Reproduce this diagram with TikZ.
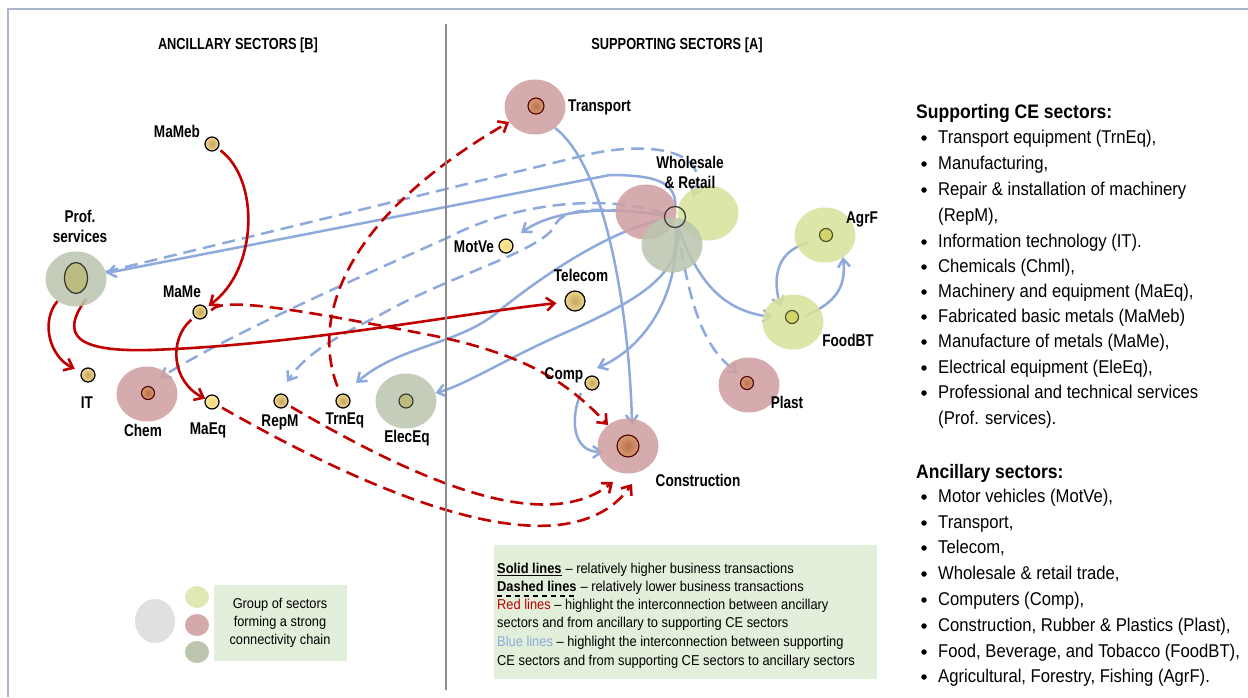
\documentclass[tikz,border=0pt]{standalone}
\usepackage{fontspec}
\setmainfont{Liberation Sans}
\newfontfamily\labelfont[FakeStretch=0.8]{Liberation Sans}
\newfontfamily\listfont[FakeStretch=0.9]{Liberation Sans}
\usetikzlibrary{calc,shapes.geometric,arrows.meta}
\pgfdeclarelayer{back}
\pgfsetlayers{back,main}
\definecolor{cered}{HTML}{C00000}
\definecolor{ceblue}{HTML}{8EA9DB}
\definecolor{redblob}{HTML}{CF9FA2}
\definecolor{greyblob}{HTML}{BCC5B0}
\definecolor{limeblob}{HTML}{D6E29C}
\definecolor{keyfill}{HTML}{E2EFDA}
\definecolor{frameblue}{HTML}{A9B6C9}
\definecolor{ydotin}{HTML}{C4A462}
\definecolor{ydotout}{HTML}{EFD68A}
\definecolor{lydotin}{HTML}{F2D680}
\definecolor{lydotout}{HTML}{FFEA9C}
\definecolor{rcorein}{HTML}{B8724F}
\definecolor{rcoreout}{HTML}{D99A72}
\definecolor{ocore}{HTML}{BDBC80}
\definecolor{lcore}{HTML}{D2D66A}
\tikzset{
 blob/.style={ellipse,minimum width=61pt,minimum height=55pt,inner sep=0pt,fill=#1,fill opacity=0.88},
 ydot/.style={circle,draw=black,line width=1.2pt,minimum size=#1,inner sep=0pt,inner color=ydotin,outer color=ydotout},
 ydot/.default=14pt,
 lydot/.style={ydot=#1,inner color=lydotin,outer color=lydotout},
 lydot/.default=14pt,
 rcore/.style={circle,draw=black!70!red,line width=1.1pt,minimum size=#1,inner sep=0pt,inner color=rcorein,outer color=rcoreout},
 ocorebox/.style={circle,draw=black!80,line width=1.1pt,minimum size=#1,inner sep=0pt,fill=ocore},
 lcorebox/.style={circle,draw=black!60!olive,line width=1.1pt,minimum size=#1,inner sep=0pt,fill=lcore},
 lbl/.style={inner sep=0pt,font=\labelfont\bfseries\fontsize{17}{20}\selectfont},
 head/.style={inner sep=0pt,font=\labelfont\bfseries\fontsize{16}{18}\selectfont},
 item/.style={anchor=west,inner sep=0pt,text height=14pt,text depth=3pt,font=\listfont\fontsize{18.5}{22}\selectfont},
 listhead/.style={anchor=west,inner sep=0pt,text height=14pt,text depth=3pt,font=\listfont\bfseries\fontsize{19.5}{22}\selectfont},
 keytxt/.style={anchor=base west,inner sep=0pt,font=\listfont\fontsize{14.3}{18.4}\selectfont},
 bul/.style={circle,fill=black,inner sep=0pt,minimum size=5.5pt},
 rline/.style={cered,line width=2.6pt,-{Straight Barb[length=8pt,width=13pt]}},
 bline/.style={ceblue,line width=2.5pt,-{Straight Barb[length=8pt,width=12pt]}},
 brk/.style={dash pattern=on 13pt off 7pt}
}
\begin{document}
\begin{tikzpicture}[x=1pt,y=-1pt]
 \useasboundingbox (0,0) rectangle (1248,697);
 \draw[frameblue,line width=1.4pt] (8,697) -- (8,9) -- (1248,9);
 \draw[black!45,line width=2pt] (446,24) -- (446,690);
 \node[head] (hB) at (238,45) {ANCILLARY SECTORS [B]};
 \node[head] (hA) at (677,45) {SUPPORTING SECTORS [A]};

 \node[ydot] (MaMeb) at (212,144) {}; \node[lbl] (MaMeb-t) at (177,131) {MaMeb};
 \node[blob=greyblob] (Prof) at (76,279) {};
 \node[ellipse,draw=black!80,line width=1.2pt,minimum width=23pt,minimum height=31pt,inner sep=0pt,fill=ocore] (Prof-c) at (76,278) {};
 \node[lbl,align=center] (Prof-t) at (80,226) {Prof.\\services};
 \node[ydot] (MaMe) at (200,312) {}; \node[lbl] (MaMe-t) at (182,292) {MaMe};
 \node[ydot] (IT) at (88,375) {}; \node[lbl] (IT-t) at (87,403) {IT};
 \node[blob=redblob] (Chem) at (147,394) {}; \node[rcore=13pt] (Chem-c) at (148,393) {};
 \node[lbl] (Chem-t) at (143,430) {Chem};
 \node[lydot] (MaEq) at (212,402) {}; \node[lbl] (MaEq-t) at (208,430) {MaEq};
 \node[ydot] (RepM) at (281,401) {}; \node[lbl] (RepM-t) at (280,422) {RepM};
 \node[ydot] (TrnEq) at (343,401) {}; \node[lbl] (TrnEq-t) at (345,420) {TrnEq};
 \node[blob=greyblob] (ElecEq) at (406,401) {}; \node[ocorebox=14pt] (ElecEq-c) at (406,401) {};
 \node[lbl] (ElecEq-t) at (407,438) {ElecEq};

 \node[blob=redblob] (Trans) at (535,107) {}; \node[rcore=16pt] (Trans-c) at (536,106) {};
 \node[lbl,anchor=west] (Trans-t) at (568,107) {Transport};
 \node[blob=redblob] (WhR) at (646,212) {};
 \node[blob=limeblob] (WhY) at (708,213) {};
 \node[blob=greyblob] (WhG) at (672,245) {};
 \node[circle,draw=black!75,line width=1.3pt,minimum size=21pt,inner sep=0pt] (Whole) at (675,217) {};
 \node[lbl,align=center] (Whole-t) at (690,172) {Wholesale\\\& Retail};
 \node[lydot] (MotVe) at (506,246) {}; \node[lbl] (MotVe-t) at (474,247) {MotVe};
 \node[ydot=20pt] (Telecom) at (575,301) {}; \node[lbl] (Telecom-t) at (581,275) {Telecom};
 \node[blob=limeblob] (AgrF) at (825,235) {}; \node[lcorebox=13pt] (AgrF-c) at (826,235) {};
 \node[lbl] (AgrF-t) at (862,219) {AgrF};
 \node[blob=limeblob] (FoodBT) at (793,322) {}; \node[lcorebox=13pt] (FoodBT-c) at (792,317) {};
 \node[lbl] (FoodBT-t) at (848,340) {FoodBT};
 \node[blob=redblob] (Plast) at (749,385) {}; \node[rcore=13pt] (Plast-c) at (747,383) {};
 \node[lbl] (Plast-t) at (787,402) {Plast};
 \node[ydot] (Comp) at (592,383) {}; \node[lbl] (Comp-t) at (564,375) {Comp};
 \node[blob=redblob] (Constr) at (628,446) {}; \node[rcore=22pt] (Constr-c) at (628,446) {};
 \node[lbl] (Constr-t) at (698,480) {Construction};

 \begin{pgfonlayer}{back}
 \draw[bline] (Whole) .. controls (676,182) and (655,175) .. (610,175) -- (Prof);
 \draw[bline] (Whole) .. controls (600,205) and (550,212) .. ($(MotVe)+(15,-13)$);
 \draw[bline] (Whole) .. controls (620,228) and (560,262) .. (500,310) .. controls (460,345) and (400,345) .. ($(TrnEq)+(13,-18)$);
 \draw[bline] (Whole) .. controls (682,275) and (640,300) .. (560,335) .. controls (500,362) and (465,385) .. (ElecEq);
 \draw[bline] (Whole) .. controls (680,300) and (640,350) .. ($(Comp)+(5,-15)$);
 \draw[bline] (Whole) .. controls (700,290) and (730,312) .. ($(FoodBT)+(-20,-5)$);
 \draw[bline] ($(Trans)+(20,21)$) .. controls (610,170) and (630,330) .. ($(Constr)+(4,-21)$);
 \draw[bline] ($(Comp)+(-11,10)$) .. controls (570,418) and (572,452) .. ($(Constr)+(-25,6)$);
 \draw[bline] ($(AgrF)+(-17,8)$) .. controls (772,252) and (774,285) .. ($(FoodBT)+(-12,-15)$);
 \draw[bline] ($(FoodBT)+(12,-6)$) .. controls (838,302) and (846,285) .. ($(AgrF)+(18,22)$);
 \draw[bline,brk] (Prof) -- (590,154) .. controls (650,141) and (712,150) .. ($(WhY)+(-15,-16)$);
 \draw[bline,brk] (Whole) .. controls (610,195) and (520,200) .. (447,238) .. controls (330,290) and (220,340) .. ($(Chem)+(13,-16)$);
 \draw[bline,brk] (Whole) .. controls (610,208) and (565,205) .. (555,225) .. controls (545,250) and (450,275) .. (380,315) .. controls (330,340) and (305,355) .. ($(RepM)+(6,-19)$);
 \draw[bline,brk] (Whole) .. controls (690,300) and (700,345) .. ($(Plast)+(-11,-12)$);
 \draw[rline,shorten >=3pt,shorten <=3pt] (MaMeb) .. controls (260,180) and (258,270) .. (MaMe);
 \draw[rline,shorten >=7pt] (Prof) .. controls (40,322) and (50,357) .. (IT);
 \draw[rline,shorten >=8pt] ($(Prof)+(10,20)$) .. controls (60,335) and (75,352) .. (150,350) .. controls (300,345) and (450,315) .. (Telecom);
 \draw[rline,shorten <=4pt] (MaMe) .. controls (168,340) and (172,382) .. (MaEq);
 \draw[rline,brk,shorten <=2pt] ($(MaMe)+(10,0)$) .. controls (222,296) and (300,310) .. (430,335) .. controls (530,355) and (570,385) .. (Constr);
 \draw[rline,brk,shorten <=4pt] (MaEq) .. controls (340,475) and (560,585) .. ($(Constr)+(4,38)$);
 \draw[rline,brk,shorten <=4pt] (RepM) .. controls (400,470) and (540,540) .. ($(Constr)+(-15,36)$);
 \draw[rline,brk,shorten <=8pt] (TrnEq) .. controls (312,320) and (340,220) .. (Trans);
 \end{pgfonlayer}

 \node[ellipse,fill=black!12,minimum width=40pt,minimum height=44pt] (kS) at (155,621) {};
 \node[ellipse,fill=limeblob!75,minimum width=24pt,minimum height=22pt] (kY) at (197,597) {};
 \node[ellipse,fill=redblob!90,minimum width=24pt,minimum height=22pt] (kR) at (197,625) {};
 \node[ellipse,fill=greyblob,minimum width=24pt,minimum height=22pt] (kG) at (197,652) {};
 \node[fill=keyfill,minimum width=133pt,minimum height=76pt,inner sep=0pt,align=center,font=\listfont\fontsize{14.2}{18}\selectfont] (grp) at (280,623) {Group of sectors\\forming a strong\\connectivity chain};
 \node[fill=keyfill,minimum width=383pt,minimum height=134pt,inner sep=0pt] (keybox) at (685.5,612) {};
 \node[keytxt] (kSol) at (497,573) {\bfseries Solid lines};
 \node[keytxt] (kSol-r) at (kSol.base east) {\ – relatively higher business transactions};
 \draw[line width=1pt] ($(kSol.base west)+(0,2.5)$) -- ($(kSol.base east)+(0,2.5)$);
 \node[keytxt] (kDash) at (497,591) {\bfseries Dashed lines};
 \node[keytxt] (kDash-r) at (kDash.base east) {\ – relatively lower business transactions};
 \draw[line width=1.2pt,dash pattern=on 5pt off 4pt] ($(kDash.base west)+(0,5)$) -- ($(kDash.base east)+(0,5)$);
 \node[keytxt] (kRed) at (497,609) {\textcolor{cered}{Red lines} – highlight the interconnection between ancillary};
 \node[keytxt] (kRed2) at (497,627) {sectors and from ancillary to supporting CE sectors};
 \node[keytxt] (kBlue) at (497,646) {\textcolor{ceblue}{Blue lines} – highlight the interconnection between supporting};
 \node[keytxt] (kBlue2) at (497,665) {CE sectors and from supporting CE sectors to ancillary sectors};

 \node[listhead] (hS) at (916,113) {Supporting CE sectors:};
 \foreach \y/\t in {138/{Transport equipment (TrnEq),},164/{Manufacturing,},190/{Repair \& installation of machinery},216/{(RepM),},242/{Information technology (IT).},267/{Chemicals (Chml),},292/{Machinery and equipment (MaEq),},317/{Fabricated basic metals (MaMeb)},342/{Manufacture of metals (MaMe),},368/{Electrical equipment (EleEq),},393/{Professional and technical services},419/{(Prof. services).}}
  \node[item] (s\y) at (938,\y) {\t};
 \foreach \y in {138,164,190,242,267,292,317,342,368,393} \node[bul] (bs\y) at (924,\y) {};
 \node[listhead] (hN) at (916,473) {Ancillary sectors:};
 \foreach \y/\t in {497/{Motor vehicles (MotVe),},523/{Transport,},548/{Telecom,},574/{Wholesale \& retail trade,},600/{Computers (Comp),},626/{Construction, Rubber \& Plastics (Plast),},652/{Food, Beverage, and Tobacco (FoodBT),},677/{Agricultural, Forestry, Fishing (AgrF).}}
  \node[item] (n\y) at (938,\y) {\t};
 \foreach \y in {497,523,548,574,600,626,652,677} \node[bul] (bn\y) at (924,\y) {};
\end{tikzpicture}
\end{document}
